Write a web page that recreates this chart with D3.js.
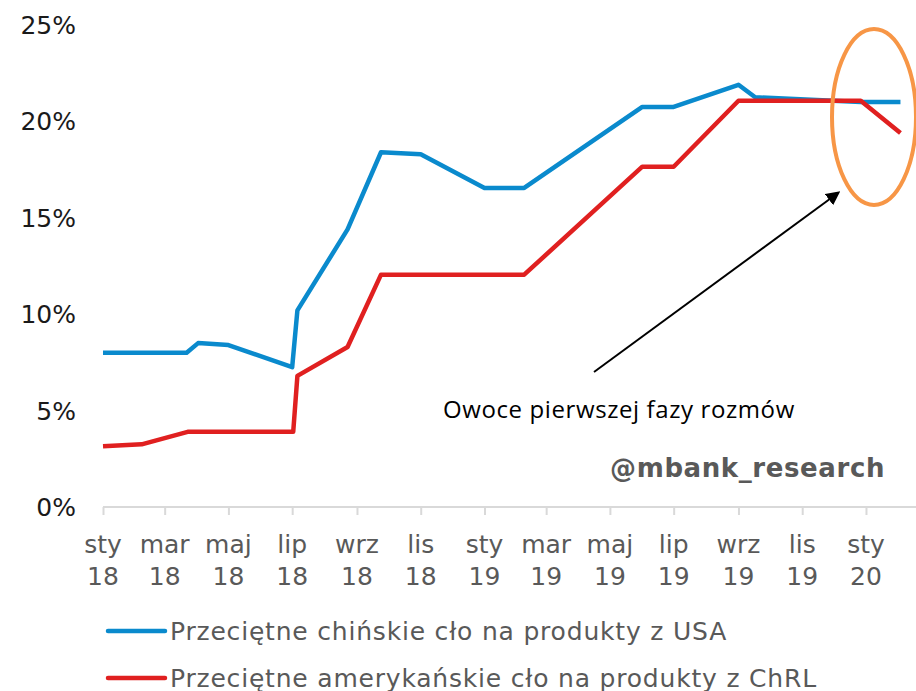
<!DOCTYPE html>
<html>
<head>
<meta charset="utf-8">
<script src="https://cdn.jsdelivr.net/npm/d3@7"></script>
<style>
  body { margin: 0; background: #fff; }
  svg { display: block; }
</style>
</head>
<body>
<div id="chart"></div>
<script>

// Chinese average tariff on US goods
var china_dates = ["2018-01-01", "2018-03-22", "2018-04-02", "2018-05-01", "2018-07-01", "2018-07-06",
  "2018-08-23", "2018-09-24", "2018-11-01", "2019-01-01", "2019-02-08", "2019-06-01", "2019-07-01",
  "2019-09-01", "2019-09-17", "2019-12-27", "2020-02-03"];
var china_values = [8.0, 8.0, 8.5, 8.4, 7.25, 10.2, 14.4, 18.4, 18.3, 16.55, 16.55, 20.75, 20.75,
  21.9, 21.25, 21.0, 21.0];

// US average tariff on Chinese goods
var us_dates = ["2018-01-01", "2018-02-07", "2018-03-23", "2018-07-02", "2018-07-06", "2018-08-23",
  "2018-09-24", "2019-02-08", "2019-06-01", "2019-07-01", "2019-09-01", "2019-12-27", "2020-02-03"];
var us_values = [3.15, 3.25, 3.9, 3.9, 6.8, 8.3, 12.05, 12.05, 17.65, 17.65, 21.07, 21.07, 19.4];

var series_names = ["Przeciętne chińskie cło na produkty z USA", "Przeciętne amerykańskie cło na produkty z ChRL"];
var series_colors = ["#0a8acd", "#e02020"];

var month_labels = ["sty", "lut", "mar", "kwi", "maj", "cze", "lip", "sie", "wrz", "paź", "lis", "gru"];
var y_ticks = [0, 5, 10, 15, 20, 25];

var width = 916, height = 691;
var parse = d3.timeParse("%Y-%m-%d");

var svg = d3.select("#chart").append("svg")
  .attr("width", width)
  .attr("height", height);

var x = d3.scaleTime()
  .domain([parse("2018-01-01"), parse("2020-02-15")])
  .range([103, 913]);

var y = d3.scaleLinear()
  .domain([0, 25])
  .range([507, 25]);

// y labels (no axis line)
svg.append("g").selectAll("text")
  .data(y_ticks)
  .enter().append("text")
  .attr("x", 76)
  .attr("y", function(d) { return y(d); })
  .attr("dy", "0.36em")
  .attr("text-anchor", "end")
  .style("font-family", "DejaVu Sans")
  .style("font-size", "25px")
  .style("fill", "#1a1a1a")
  .text(function(d) { return d + "%"; });

// x axis
var tick_dates = d3.timeMonth.every(2).range(parse("2018-01-01"), parse("2020-01-02"));

var xAxis = svg.append("g")
  .attr("transform", "translate(0,507)")
  .call(d3.axisBottom(x).tickValues(tick_dates).tickSize(8).tickFormat(""));

xAxis.select(".domain")
  .attr("d", "M" + x.range()[0] + ",0H" + width)
  .style("stroke", "#d9d9d9")
  .style("stroke-width", 2);
xAxis.selectAll(".tick line").style("stroke", "#d9d9d9").style("stroke-width", 2);

var labels = svg.append("g").selectAll("text")
  .data(tick_dates)
  .enter().append("text")
  .attr("text-anchor", "middle")
  .style("font-family", "DejaVu Sans")
  .style("font-size", "25px")
  .style("fill", "#595959");

labels.append("tspan")
  .attr("x", function(d) { return x(d); })
  .attr("y", 553)
  .text(function(d) { return month_labels[d.getMonth()]; });

labels.append("tspan")
  .attr("x", function(d) { return x(d); })
  .attr("y", 585)
  .text(function(d) { return d3.timeFormat("%y")(d); });

// lines
var line = d3.line()
  .x(function(d) { return x(d.date); })
  .y(function(d) { return y(d.value); });

var china_data = china_dates.map(function(d, i) { return { date: parse(d), value: china_values[i] }; });
var us_data = us_dates.map(function(d, i) { return { date: parse(d), value: us_values[i] }; });

svg.append("path")
  .datum(china_data)
  .attr("d", line)
  .style("fill", "none")
  .style("stroke", series_colors[0])
  .style("stroke-width", 4.5)
  .style("stroke-linejoin", "round");

svg.append("path")
  .datum(us_data)
  .attr("d", line)
  .style("fill", "none")
  .style("stroke", series_colors[1])
  .style("stroke-width", 4.5)
  .style("stroke-linejoin", "round");

// annotation: ellipse, arrow and text
svg.append("ellipse")
  .attr("cx", 874)
  .attr("cy", 117)
  .attr("rx", 42)
  .attr("ry", 88)
  .style("fill", "none")
  .style("stroke", "#f79646")
  .style("stroke-width", 4);

svg.append("defs").append("marker")
  .attr("id", "arrow")
  .attr("viewBox", "0 0 10 10")
  .attr("refX", 8)
  .attr("refY", 5)
  .attr("markerWidth", 7)
  .attr("markerHeight", 7)
  .attr("orient", "auto")
  .append("path")
  .attr("d", "M0,0L10,5L0,10z")
  .style("fill", "#000");

svg.append("line")
  .attr("x1", 594).attr("y1", 372)
  .attr("x2", 838).attr("y2", 193)
  .style("stroke", "#000")
  .style("stroke-width", 2)
  .attr("marker-end", "url(#arrow)");

svg.append("text")
  .attr("x", 443)
  .attr("y", 418)
  .style("font-family", "Open Sans")
  .style("font-size", "24px")
  .style("letter-spacing", "0.6px")
  .style("fill", "#000")
  .text("Owoce pierwszej fazy rozmów");

svg.append("text")
  .attr("x", 885)
  .attr("y", 477)
  .attr("text-anchor", "end")
  .style("font-family", "DejaVu Sans")
  .style("font-weight", "bold")
  .style("font-size", "26px")
  .style("letter-spacing", "0.6px")
  .style("fill", "#595959")
  .text("@mbank_research");

// legend
var legend = svg.append("g").selectAll("g")
  .data(series_names)
  .enter().append("g")
  .attr("transform", function(d, i) { return "translate(0," + (631 + i * 47) + ")"; });

legend.append("line")
  .attr("x1", 108).attr("x2", 165)
  .style("stroke", function(d, i) { return series_colors[i]; })
  .style("stroke-width", 4.5)
  .style("stroke-linecap", "round");

legend.append("text")
  .attr("x", 170)
  .attr("dy", "0.36em")
  .style("font-family", "DejaVu Sans")
  .style("font-size", "25px")
  .style("letter-spacing", "0.8px")
  .style("fill", "#595959")
  .text(function(d) { return d; });

</script>
</body>
</html>
